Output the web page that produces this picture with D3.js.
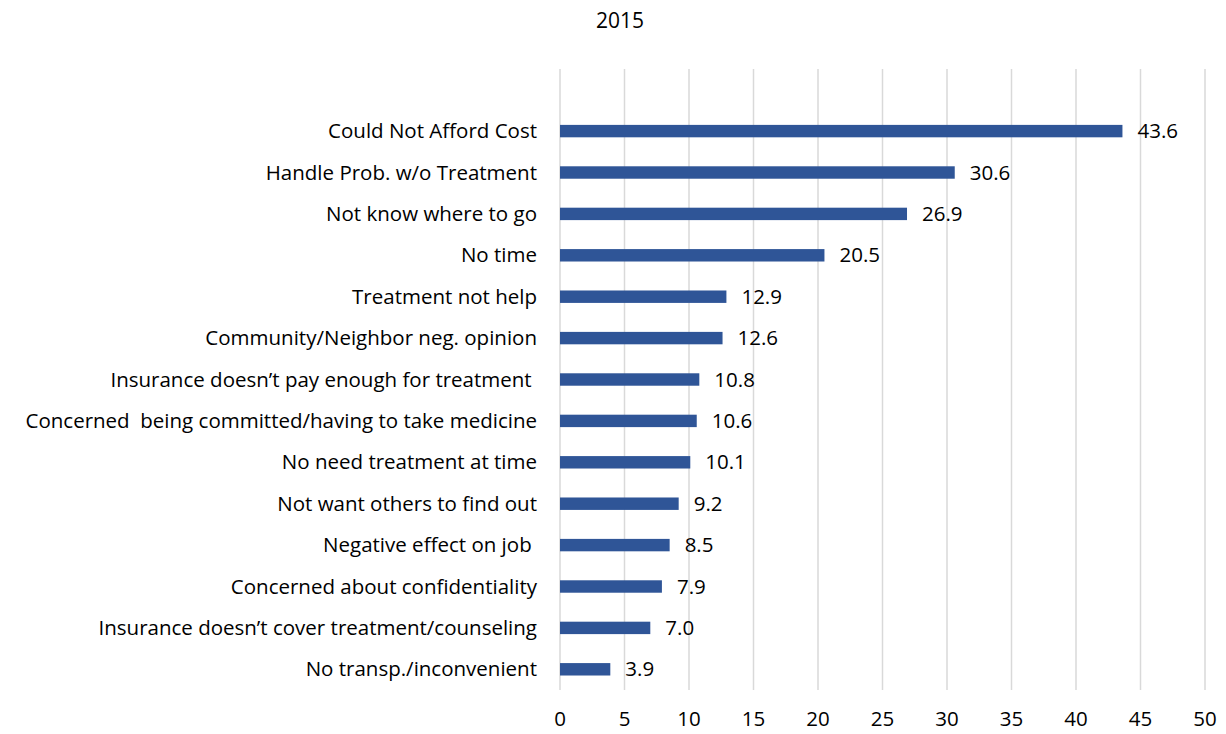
<!DOCTYPE html>
<html>
<head>
<meta charset="utf-8">
<script src="https://d3js.org/d3.v7.min.js"></script>
<style>
  body { margin: 0; background: #fff; }
  text { font-family: "Open Sans", Lato, sans-serif; fill: #000; }
</style>
</head>
<body>
<div id="chart"></div>
<script>
// Chart data
const categories = [
  "Could Not Afford Cost",
  "Handle Prob. w/o Treatment",
  "Not know where to go",
  "No time",
  "Treatment not help",
  "Community/Neighbor neg. opinion",
  "Insurance doesn\u2019t pay enough for treatment ",
  "Concerned  being committed/having to take medicine",
  "No need treatment at time",
  "Not want others to find out",
  "Negative effect on job ",
  "Concerned about confidentiality",
  "Insurance doesn\u2019t cover treatment/counseling",
  "No transp./inconvenient"
];
const values = [43.6, 30.6, 26.9, 20.5, 12.9, 12.6, 10.8, 10.6, 10.1, 9.2, 8.5, 7.9, 7.0, 3.9];
const xTicks = [0, 5, 10, 15, 20, 25, 30, 35, 40, 45, 50];
const title = "2015";

const W = 1226, H = 734;
const plot = { left: 560, right: 1205, top: 69, bottom: 690 };
const fontSize = "20.5px";

const svg = d3.select("#chart").append("svg")
    .attr("width", W)
    .attr("height", H);

const x = d3.scaleLinear().domain([0, 50]).range([plot.left, plot.right]);

const step = (plot.bottom - plot.top) / (categories.length + 1);
const y = d3.scaleBand()
    .domain(categories)
    .range([plot.top + step, plot.bottom])
    .paddingInner(0.7)
    .paddingOuter(0.35);

// Title
svg.append("text")
    .attr("x", 620)
    .attr("y", 28)
    .attr("text-anchor", "middle")
    .style("font-size", "21px")
    .text(title);

// Vertical gridlines
svg.append("g")
    .selectAll("line")
    .data(xTicks)
    .enter().append("line")
    .attr("x1", d => x(d))
    .attr("x2", d => x(d))
    .attr("y1", plot.top)
    .attr("y2", plot.bottom)
    .attr("stroke", "#d9d9d9")
    .attr("stroke-width", 1.5);

// Tick labels
svg.append("g")
    .selectAll("text")
    .data(xTicks)
    .enter().append("text")
    .attr("x", d => x(d))
    .attr("y", 726)
    .attr("text-anchor", "middle")
    .style("font-size", fontSize)
    .text(d => d);

// Bars
svg.append("g")
    .selectAll("rect")
    .data(values)
    .enter().append("rect")
    .attr("x", x(0))
    .attr("y", (d, i) => y(categories[i]))
    .attr("width", d => x(d) - x(0))
    .attr("height", y.bandwidth())
    .attr("fill", "#2f5597");

// Value labels
svg.append("g")
    .selectAll("text")
    .data(values)
    .enter().append("text")
    .attr("x", d => x(d) + 15)
    .attr("y", (d, i) => y(categories[i]) + y.bandwidth() / 2)
    .attr("dy", "0.35em")
    .style("font-size", fontSize)
    .text(d => d.toFixed(1));

// Category labels
svg.append("g")
    .selectAll("text")
    .data(categories)
    .enter().append("text")
    .attr("x", 537)
    .attr("y", d => y(d) + y.bandwidth() / 2)
    .attr("dy", "0.35em")
    .attr("text-anchor", "end")
    .style("font-size", fontSize)
    .style("white-space", "pre")
    .attr("xml:space", "preserve")
    .text(d => d);
</script>
</body>
</html>
